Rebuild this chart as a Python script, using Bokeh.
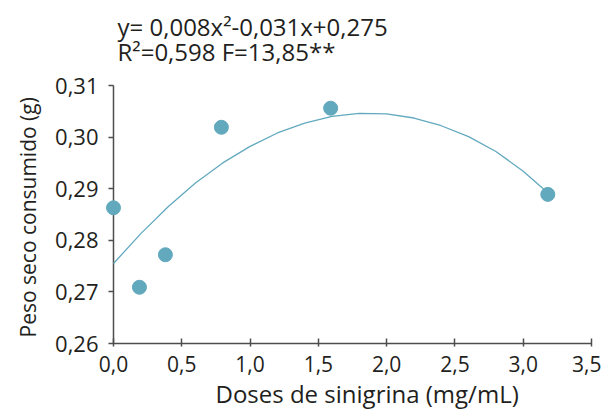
from bokeh.plotting import figure
from bokeh.models import Range1d, FixedTicker, CustomJSTickFormatter, Title, Label
from bokeh.embed import file_html
from bokeh.resources import INLINE

doses = [0.0, 0.19, 0.38, 0.79, 1.59, 3.18]
peso = [0.2863, 0.2709, 0.2772, 0.3019, 0.3056, 0.2889]

# Fitted curve as drawn in the picture
curve_x = [0.0, 0.2, 0.4, 0.6, 0.8, 1.0, 1.2, 1.4, 1.6, 1.8, 2.0, 2.2, 2.4, 2.6, 2.8, 3.0, 3.18]
curve_y = [0.2755, 0.2813, 0.2865, 0.2911, 0.2950, 0.2982, 0.3008, 0.3027, 0.3040, 0.3046,
           0.3045, 0.3037, 0.3022, 0.3001, 0.2972, 0.2934, 0.2892]

x_ticks = [0.0, 0.5, 1.0, 1.5, 2.0, 2.5, 3.0, 3.5]
y_ticks = [0.26, 0.27, 0.28, 0.29, 0.30, 0.31]

eq_line1 = "y= 0,008x²-0,031x+0,275"
eq_line2 = "R²=0,598 F=13,85**"
x_label = "Doses de sinigrina (mg/mL)"
y_label = "Peso seco consumido (g)"

FONT = "Open Sans"
TEXT = "#231f20"
AXIS = "#4d4d4d"
TEAL = "#62a9be"

PX_X = 136.6   # pixels per x unit
PX_Y = 5160.0  # pixels per y unit
x_lo = x_ticks[0] - 8 / PX_X            # small margin so the dot at x=0 is not cut
y_hi = y_ticks[-1] + 85 / PX_Y          # room above the axis for the equation

p = figure(frame_width=486, frame_height=343,
           x_range=Range1d(x_lo, x_ticks[-1]), y_range=Range1d(y_ticks[0], y_hi),
           output_backend="svg", toolbar_location=None,
           min_border_left=104, min_border_right=10,
           min_border_top=0, min_border_bottom=10)
p.outline_line_color = None
p.grid.visible = False
p.background_fill_color = "white"
p.border_fill_color = "white"

# y axis line at x = 0
p.segment(x0=[x_ticks[0]], y0=[y_ticks[0]], x1=[x_ticks[0]], y1=[y_ticks[-1]],
          line_color=AXIS, line_width=1.5)

p.line(curve_x, curve_y, line_color=TEAL, line_width=1.3)
p.scatter(doses, peso, size=14, fill_color=TEAL, line_color=TEAL)

xa = p.xaxis[0]
xa.bounds = (x_ticks[0], x_ticks[-1])
xa.ticker = FixedTicker(ticks=x_ticks)
xa.formatter = CustomJSTickFormatter(code="return tick.toFixed(1).replace('.', ',');")
xa.major_tick_in = 5
xa.major_tick_out = 3
xa.major_label_standoff = 9
xa.axis_line_color = AXIS
xa.axis_line_width = 1.5
xa.major_label_text_font_size = "21px"

ya = p.yaxis[0]
ya.bounds = (y_ticks[0], y_ticks[-1])
ya.ticker = FixedTicker(ticks=y_ticks)
ya.formatter = CustomJSTickFormatter(code="return tick.toFixed(2).replace('.', ',');")
ya.axis_line_color = None
ya.major_tick_in = 8
ya.major_tick_out = -3
ya.major_label_standoff = 7
ya.major_label_text_font_size = "22px"

for ax in (xa, ya):
    ax.major_tick_line_color = AXIS
    ax.major_tick_line_width = 1.5
    ax.minor_tick_line_color = None
    ax.major_label_text_font = FONT
    ax.major_label_text_color = TEXT

p.add_layout(Title(text=y_label, align="left", offset=6, standoff=22,
                   text_font=FONT, text_font_size="21px", text_font_style="normal",
                   text_color=TEXT), "left")
p.add_layout(Title(text=x_label, align="left", offset=110, standoff=0,
                   text_font=FONT, text_font_size="24px", text_font_style="normal",
                   text_color=TEXT), "below")
p.add_layout(Label(x=x_ticks[0], y=y_ticks[-1], x_offset=4, y_offset=59, text=eq_line1,
                   text_align="left", text_baseline="alphabetic", text_font=FONT,
                   text_font_size="24px", text_color=TEXT))
p.add_layout(Label(x=x_ticks[0], y=y_ticks[-1], x_offset=4, y_offset=34, text=eq_line2,
                   text_align="left", text_baseline="alphabetic", text_font=FONT,
                   text_font_size="24px", text_color=TEXT))

open("out.html", "w").write(file_html(p, INLINE))
